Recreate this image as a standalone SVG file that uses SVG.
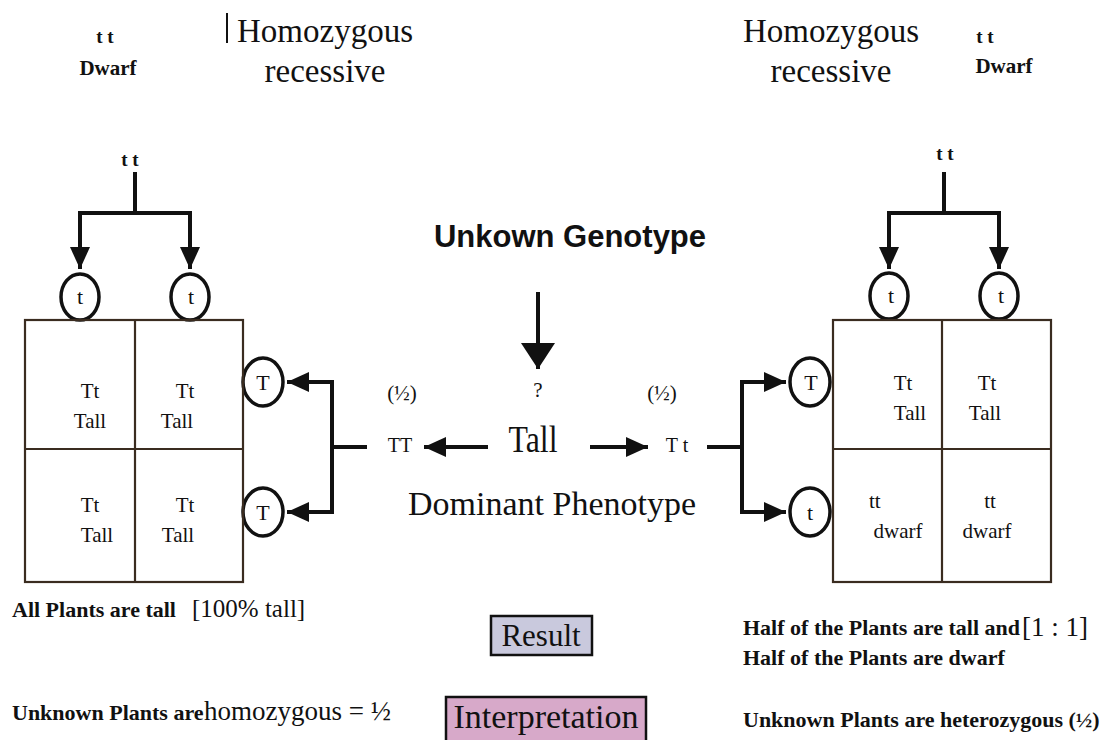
<svg xmlns="http://www.w3.org/2000/svg" width="1111" height="740" viewBox="0 0 1111 740">
<style>
text{font-family:"Liberation Serif","Times New Roman",serif;fill:#111}
.c{text-anchor:middle}
.cell{font-size:21px}
.allele{font-size:22px;text-anchor:middle}
.title{font-size:33px;text-anchor:middle}
.lbl{font-size:22px;font-weight:bold}
.grid{fill:none;stroke:#3a2c20;stroke-width:2.2}
.circ{fill:#fff;stroke:#111;stroke-width:3.5}
.conn path{fill:none;stroke:#111;stroke-width:4;stroke-linejoin:miter}
</style>
<defs>
<marker id="ah" markerUnits="userSpaceOnUse" markerWidth="24" markerHeight="24" refX="22" refY="10" orient="auto">
<path d="M0,0 L22,10 L0,20 Z" fill="#111"/>
</marker>
<marker id="ahb" markerUnits="userSpaceOnUse" markerWidth="28" markerHeight="36" refX="26" refY="17" orient="auto">
<path d="M0,0 L26,17 L0,34 Z" fill="#111"/>
</marker>
</defs>
<rect width="1111" height="740" fill="#fff"/>

<g id="top-left">
<text class="c b" x="105" y="43" font-size="19" font-weight="bold">t t</text>
<text class="c" x="108" y="75" font-size="21" font-weight="bold">Dwarf</text>
<line x1="227" y1="13" x2="227" y2="43" stroke="#111" stroke-width="2"/>
<text class="title" x="325" y="42">Homozygous</text>
<text class="title" x="325" y="82">recessive</text>
</g>
<g id="top-right">
<text class="title" x="831" y="42">Homozygous</text>
<text class="title" x="831" y="82">recessive</text>
<text class="c" x="985" y="43" font-size="19" font-weight="bold">t t</text>
<text class="c" x="1004" y="73" font-size="21" font-weight="bold">Dwarf</text>
</g>

<g id="connectors" class="conn">
<path d="M135,172 V213"/>
<path d="M135,213 H80 V269" marker-end="url(#ah)"/>
<path d="M135,213 H190 V269" marker-end="url(#ah)"/>
<path d="M367,447 H332"/>
<path d="M332,447 V382 H287" marker-end="url(#ah)"/>
<path d="M332,447 V512 H287" marker-end="url(#ah)"/>
<path d="M944,172 V213"/>
<path d="M944,213 H889 V269" marker-end="url(#ah)"/>
<path d="M944,213 H999 V269" marker-end="url(#ah)"/>
<path d="M707,447 H742"/>
<path d="M742,447 V382 H786" marker-end="url(#ah)"/>
<path d="M742,447 V512 H786" marker-end="url(#ah)"/>
<path d="M538,292 V369" stroke-width="5" marker-end="url(#ahb)"/>
<path d="M488,447 H424" stroke-width="5" marker-end="url(#ah)"/>
<path d="M590,447 H648" stroke-width="5" marker-end="url(#ah)"/>
</g>

<g id="left-parent">
<text class="c" x="130" y="166" font-size="19" font-weight="bold">t t</text>
</g>
<g id="left-gametes">
<ellipse class="circ" cx="80" cy="297" rx="19" ry="23"/>
<text class="allele" x="80" y="304">t</text>
<ellipse class="circ" cx="190" cy="297" rx="19" ry="23"/>
<text class="allele" x="191" y="304">t</text>
<ellipse class="circ" cx="263" cy="382" rx="20" ry="24"/>
<text class="allele" x="263" y="390">T</text>
<ellipse class="circ" cx="263" cy="512" rx="20" ry="24"/>
<text class="allele" x="263" y="520">T</text>
</g>
<g id="left-square">
<rect class="grid" x="25" y="320" width="218" height="262"/>
<line class="grid" x1="135" y1="320" x2="135" y2="582"/>
<line class="grid" x1="25" y1="449" x2="243" y2="449"/>
<text class="cell c" x="90" y="398">Tt</text>
<text class="cell c" x="90" y="428">Tall</text>
<text class="cell c" x="185" y="398">Tt</text>
<text class="cell c" x="177" y="428">Tall</text>
<text class="cell c" x="90" y="512">Tt</text>
<text class="cell c" x="97" y="542">Tall</text>
<text class="cell c" x="185" y="512">Tt</text>
<text class="cell c" x="178" y="542">Tall</text>
</g>

<g id="center">
<text x="570" y="247" font-weight="bold" font-size="31" text-anchor="middle" style="font-family:'Liberation Sans',Arial,sans-serif">Unkown Genotype</text>
<text class="c" x="538" y="397" font-size="21">?</text>
<text class="c" x="402" y="400" font-size="21">(½)</text>
<text class="c" x="662" y="400" font-size="21">(½)</text>
<text class="c" x="400" y="452" font-size="20">TT</text>
<text class="c" x="533" y="452" font-size="37" transform="translate(533 0) scale(0.86 1) translate(-533 0)">Tall</text>
<text class="c" x="677" y="452" font-size="20">T t</text>
<text class="c" x="552" y="515" font-size="34">Dominant Phenotype</text>
</g>

<g id="right-parent">
<text class="c" x="945" y="160" font-size="19" font-weight="bold">t t</text>
</g>
<g id="right-gametes">
<ellipse class="circ" cx="889" cy="296" rx="19" ry="23"/>
<text class="allele" x="891" y="303">t</text>
<ellipse class="circ" cx="999" cy="296" rx="19" ry="23"/>
<text class="allele" x="1001" y="303">t</text>
<ellipse class="circ" cx="810" cy="382" rx="20" ry="24"/>
<text class="allele" x="811" y="390">T</text>
<ellipse class="circ" cx="810" cy="512" rx="20" ry="24"/>
<text class="allele" x="810" y="520">t</text>
</g>
<g id="right-square">
<rect class="grid" x="833" y="320" width="218" height="262"/>
<line class="grid" x1="942" y1="320" x2="942" y2="582"/>
<line class="grid" x1="833" y1="449" x2="1051" y2="449"/>
<text class="cell c" x="903" y="390">Tt</text>
<text class="cell c" x="910" y="420">Tall</text>
<text class="cell c" x="987" y="390">Tt</text>
<text class="cell c" x="985" y="420">Tall</text>
<text class="cell" x="869" y="508">tt</text>
<text class="cell c" x="898" y="538">dwarf</text>
<text class="cell c" x="990" y="508">tt</text>
<text class="cell c" x="987" y="538">dwarf</text>
</g>

<g id="result-left">
<text class="lbl" x="12" y="617">All Plants are tall</text>
<text x="192" y="617" font-size="25">[100% tall]</text>
</g>
<g id="interp-left">
<text x="12" y="720"><tspan class="lbl">Unknown Plants are</tspan><tspan x="204" font-size="27">homozygous = ½</tspan></text>
</g>
<g id="result-box">
<rect x="491" y="616" width="101" height="39" fill="#c9c9dd" stroke="#111" stroke-width="2.5"/>
<text class="c" x="541" y="646" font-size="31">Result</text>
</g>
<g id="interp-box">
<rect x="446" y="697" width="200" height="50" fill="#d7a9c9" stroke="#111" stroke-width="2.5"/>
<text class="c" x="546" y="728" font-size="34">Interpretation</text>
</g>
<g id="result-right">
<text class="lbl" x="743" y="635">Half of the Plants are tall and</text>
<text x="1022" y="636" font-size="27">[1 : 1]</text>
<text class="lbl" x="743" y="665">Half of the Plants are dwarf</text>
</g>
<g id="interp-right">
<text class="lbl" x="743" y="727">Unknown Plants are heterozygous (½)</text>
</g>
</svg>
